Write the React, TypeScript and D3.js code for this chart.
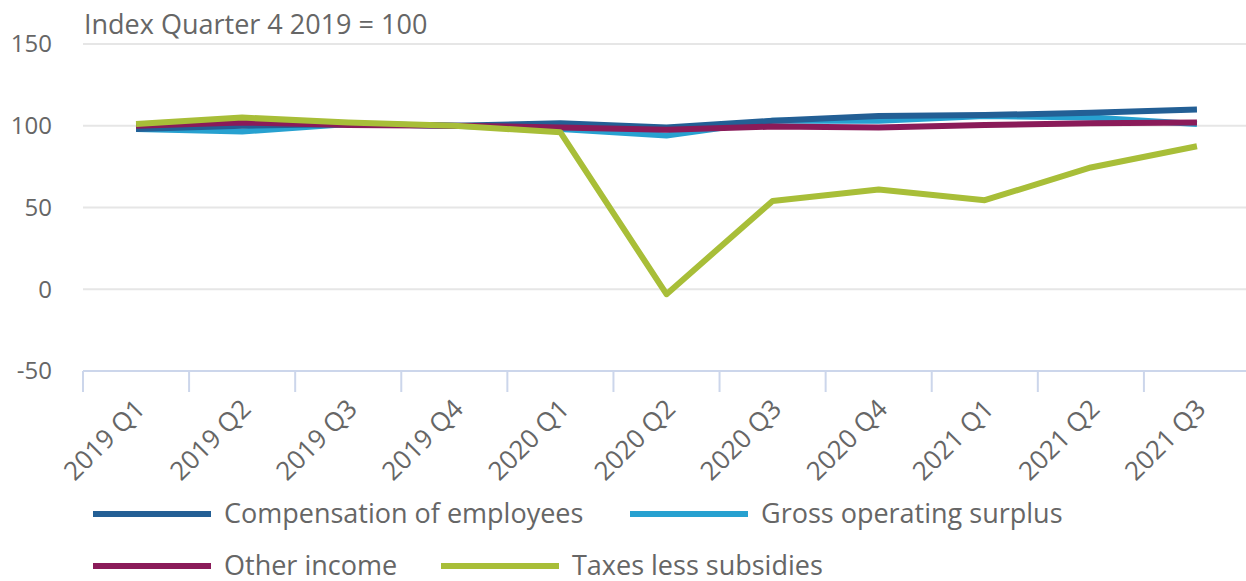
import React from "react";
import * as d3 from "d3";

const categories = ["2019 Q1","2019 Q2","2019 Q3","2019 Q4","2020 Q1","2020 Q2","2020 Q3","2020 Q4","2021 Q1","2021 Q2","2021 Q3"];
const compensation = [98, 100, 101, 100, 101.5, 99, 103, 106, 106.5, 108, 110];
const grossSurplus = [98, 96.5, 101, 100, 98, 94, 103, 103, 106, 105, 101];
const otherIncome = [100, 102, 100.5, 100, 99, 97.5, 99.5, 99, 100.5, 101.5, 102];
const taxes = [101, 105, 102, 100, 96, -3, 54, 61, 54.5, 74.5, 87.5];
const yTicks = [-50, 0, 50, 100, 150];

const seriesList = [
  { name: "Compensation of employees", values: compensation, color: "#235f95" },
  { name: "Gross operating surplus", values: grossSurplus, color: "#27a1d0" },
  { name: "Other income", values: otherIncome, color: "#8a1b59" },
  { name: "Taxes less subsidies", values: taxes, color: "#a8be38" },
];
const drawOrder = [1, 0, 2, 3];

const FONT = "'Open Sans', 'Noto Sans', sans-serif";
const TEXT = "#666666";

export default function App() {
  const W = 1246, H = 581;
  const left = 83, right = 1250, top = 44, bottom = 371;
  const x = d3.scaleBand<string>().domain(categories).range([left, right]);
  const y = d3.scaleLinear().domain([-50, 150]).range([bottom, top]);
  const line = d3.line<number>()
    .x((_, i) => (x(categories[i]) as number) + x.bandwidth() / 2)
    .y((d) => y(d));

  const legendItems = [
    { s: seriesList[0], lx: 93, ly: 514 },
    { s: seriesList[1], lx: 630, ly: 514 },
    { s: seriesList[2], lx: 93, ly: 566 },
    { s: seriesList[3], lx: 441, ly: 566 },
  ];

  return (
    <svg width={W} height={H} style={{ position: "absolute", left: 0, top: 0, fontFamily: FONT }}>
      <rect width={W} height={H} fill="#ffffff" />
      <text x={84} y={34} fontSize={27} fill={TEXT}>Index Quarter 4 2019 = 100</text>
      {yTicks.map((t) => (
        <g key={t}>
          {t !== -50 && <line x1={left} x2={W} y1={y(t)} y2={y(t)} stroke="#e6e6e6" strokeWidth={2} />}
          <text x={52} y={y(t)} dy="0.35em" textAnchor="end" fontSize={24} fill={TEXT}>{t}</text>
        </g>
      ))}
      <line x1={left} x2={W} y1={bottom} y2={bottom} stroke="#ccd6eb" strokeWidth={2} />
      {categories.map((c, i) => (
        <line key={"t" + i} x1={(x(c) as number)} x2={(x(c) as number)} y1={bottom} y2={bottom + 21} stroke="#ccd6eb" strokeWidth={2} />
      ))}
      {categories.map((c) => {
        const cx = (x(c) as number) + x.bandwidth() / 2 + 4;
        const cy = bottom + 33;
        return (
          <text key={c} x={cx} y={cy} transform={`rotate(-45 ${cx} ${cy})`} textAnchor="end" fontSize={26} fill={TEXT} dy="0.35em">{c}</text>
        );
      })}
      {drawOrder.map((k) => (
        <path key={k} d={line(seriesList[k].values) || ""} fill="none" stroke={seriesList[k].color} strokeWidth={6} strokeLinejoin="round" />
      ))}
      {legendItems.map(({ s, lx, ly }) => (
        <g key={s.name}>
          <line x1={lx} x2={lx + 118} y1={ly} y2={ly} stroke={s.color} strokeWidth={6} />
          <text x={lx + 131} y={ly} dy="0.35em" fontSize={27} fill={TEXT}>{s.name}</text>
        </g>
      ))}
    </svg>
  );
}
